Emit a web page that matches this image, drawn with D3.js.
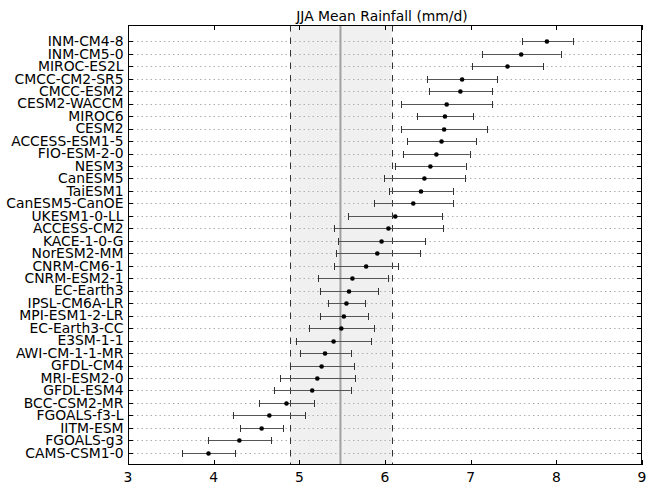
<!DOCTYPE html>
<html>
<head>
<meta charset="utf-8">
<script src="https://cdn.jsdelivr.net/npm/d3@7/dist/d3.min.js"></script>
<style>
  html, body { margin: 0; padding: 0; background: #fff; }
  svg { display: block; }
  text { font-family: "DejaVu Sans", sans-serif; fill: #000; }
</style>
</head>
<body>
<svg id="chart" width="647" height="483"></svg>
<script>
const models = ["INM-CM4-8","INM-CM5-0","MIROC-ES2L","CMCC-CM2-SR5","CMCC-ESM2","CESM2-WACCM","MIROC6","CESM2","ACCESS-ESM1-5","FIO-ESM-2-0","NESM3","CanESM5","TaiESM1","CanESM5-CanOE","UKESM1-0-LL","ACCESS-CM2","KACE-1-0-G","NorESM2-MM","CNRM-CM6-1","CNRM-ESM2-1","EC-Earth3","IPSL-CM6A-LR","MPI-ESM1-2-LR","EC-Earth3-CC","E3SM-1-1","AWI-CM-1-1-MR","GFDL-CM4","MRI-ESM2-0","GFDL-ESM4","BCC-CSM2-MR","FGOALS-f3-L","IITM-ESM","FGOALS-g3","CAMS-CSM1-0"];
const means = [7.89,7.59,7.43,6.90,6.88,6.72,6.70,6.69,6.66,6.60,6.53,6.46,6.42,6.33,6.12,6.04,5.96,5.91,5.78,5.62,5.58,5.55,5.52,5.49,5.40,5.30,5.26,5.21,5.15,4.85,4.65,4.56,4.30,3.94];
const lows  = [7.60,7.13,7.01,6.49,6.51,6.19,6.37,6.19,6.26,6.21,6.12,5.99,6.05,5.87,5.57,5.40,5.45,5.43,5.41,5.22,5.24,5.33,5.24,5.11,4.96,5.01,4.89,4.78,4.70,4.53,4.23,4.31,3.93,3.63];
const highs = [8.19,8.05,7.85,7.31,7.25,7.25,7.03,7.19,7.06,6.99,6.94,6.93,6.79,6.79,6.67,6.68,6.47,6.41,6.15,6.03,5.92,5.77,5.80,5.87,5.84,5.60,5.64,5.65,5.60,5.17,5.07,4.81,4.67,4.25];
const refMean = 5.48;
const refLow = 4.89;
const refHigh = 6.08;
const xTicks = [3,4,5,6,7,8,9];
const title = "JJA Mean Rainfall (mm/d)";

const svg = d3.select("#chart");
const L = 128, R = 642, T = 25, B = 465;
const x = d3.scaleLinear().domain([3, 9]).range([L, R]);
const y = d3.scalePoint().domain(models).range([41.3, 452.8]);

// shaded band
svg.append("rect")
  .attr("x", x(refLow)).attr("y", T)
  .attr("width", x(refHigh) - x(refLow)).attr("height", B - T)
  .attr("fill", "#f0f0f0");

// grid lines
svg.append("g").selectAll("line").data(models).join("line")
  .attr("x1", L).attr("x2", R)
  .attr("y1", d => Math.round(y(d)) + 0.5).attr("y2", d => Math.round(y(d)) + 0.5)
  .attr("stroke", "#b0b0b0").attr("stroke-width", 1)
  .attr("stroke-dasharray", "1.5,3");

// reference lines
svg.append("line")
  .attr("x1", x(refMean)).attr("x2", x(refMean)).attr("y1", T).attr("y2", B)
  .attr("stroke", "#a0a0a0").attr("stroke-width", 2);
[refLow, refHigh].forEach(v => {
  svg.append("line")
    .attr("x1", Math.round(x(v)) + 0.5).attr("x2", Math.round(x(v)) + 0.5)
    .attr("y1", T).attr("y2", B)
    .attr("stroke", "#333").attr("stroke-width", 1)
    .attr("stroke-dasharray", "6.5,6");
});

// error bars
const rows = models.map((m, i) => ({m, mean: means[i], lo: lows[i], hi: highs[i]}));
const eb = svg.append("g");
eb.selectAll("line.bar").data(rows).join("line").attr("class", "bar")
  .attr("x1", d => x(d.lo)).attr("x2", d => x(d.hi))
  .attr("y1", d => Math.round(y(d.m)) + 0.5).attr("y2", d => Math.round(y(d.m)) + 0.5)
  .attr("stroke", "#555").attr("stroke-width", 1);
["lo", "hi"].forEach(k => {
  eb.selectAll("line.cap" + k).data(rows).join("line").attr("class", "cap" + k)
    .attr("x1", d => Math.round(x(d[k])) + 0.5).attr("x2", d => Math.round(x(d[k])) + 0.5)
    .attr("y1", d => Math.round(y(d.m)) - 3).attr("y2", d => Math.round(y(d.m)) + 4)
    .attr("stroke", "#333").attr("stroke-width", 1);
});
eb.selectAll("circle").data(rows).join("circle")
  .attr("cx", d => x(d.mean)).attr("cy", d => Math.round(y(d.m)) + 0.5)
  .attr("r", 2.3).attr("fill", "#000");

// frame
svg.append("rect")
  .attr("x", L + 0.5).attr("y", T + 0.5)
  .attr("width", R - L - 1).attr("height", B - T - 1)
  .attr("fill", "none").attr("stroke", "#000").attr("stroke-width", 1);

// x ticks (inward, top and bottom)
const xt = svg.append("g");
xt.selectAll("line.b").data(xTicks).join("line").attr("class", "b")
  .attr("x1", d => Math.round(x(d)) + 0.5).attr("x2", d => Math.round(x(d)) + 0.5)
  .attr("y1", B).attr("y2", B - 5).attr("stroke", "#000");
xt.selectAll("line.t").data(xTicks).join("line").attr("class", "t")
  .attr("x1", d => Math.round(x(d)) + 0.5).attr("x2", d => Math.round(x(d)) + 0.5)
  .attr("y1", T).attr("y2", T + 5).attr("stroke", "#000");
xt.selectAll("text").data(xTicks).join("text")
  .attr("x", d => x(d)).attr("y", 481.5)
  .attr("text-anchor", "middle").attr("font-size", "13.9px")
  .text(d => d);

// y ticks (inward, left and right)
const yt = svg.append("g");
yt.selectAll("line.l").data(models).join("line").attr("class", "l")
  .attr("x1", L).attr("x2", L + 5)
  .attr("y1", d => Math.round(y(d)) + 0.5).attr("y2", d => Math.round(y(d)) + 0.5)
  .attr("stroke", "#000");
yt.selectAll("line.r").data(models).join("line").attr("class", "r")
  .attr("x1", R).attr("x2", R - 5)
  .attr("y1", d => Math.round(y(d)) + 0.5).attr("y2", d => Math.round(y(d)) + 0.5)
  .attr("stroke", "#000");
yt.selectAll("text").data(models).join("text")
  .attr("x", 123.5).attr("y", d => y(d) + 4.8)
  .attr("text-anchor", "end").attr("font-size", "13.9px")
  .text(d => d);

// title
svg.append("text")
  .attr("x", 382).attr("y", 20.5)
  .attr("text-anchor", "middle").attr("font-size", "13.9px")
  .text(title);
</script>
</body>
</html>
